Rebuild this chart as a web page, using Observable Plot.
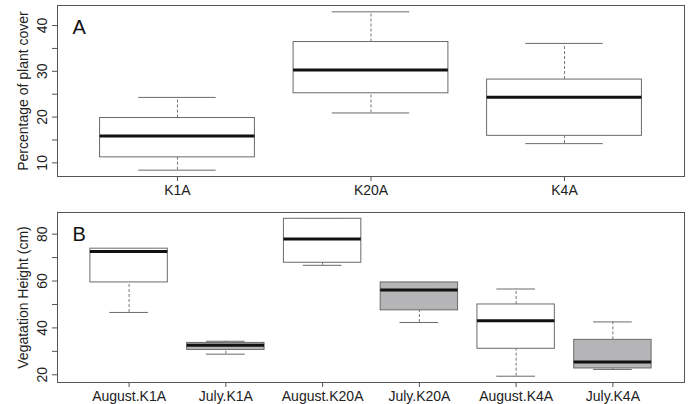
<!DOCTYPE html>
<html>
<head>
<meta charset="utf-8">
<script src="https://cdn.jsdelivr.net/npm/d3@7"></script>
<script src="https://cdn.jsdelivr.net/npm/@observablehq/plot@0.6"></script>
<style>
  html, body { margin: 0; padding: 0; background: white; }
  #chart { width: 689px; height: 404px; }
  #chart svg { display: block; }
</style>
</head>
<body>
<div id="chart"></div>
<script>
// Panel A: percentage of plant cover
const catsA = ["K1A", "K20A", "K4A"];
const loA  = [8.4, 20.9, 14.2];
const q1A  = [11.2, 25.2, 15.9];
const medA = [15.85, 30.3, 24.35];
const q3A  = [19.8, 36.4, 28.2];
const hiA  = [24.3, 43.0, 36.1];
const ticksA = [10, 15, 20, 25, 30, 35, 40];

// Panel B: vegetation height
const catsB = ["August.K1A", "July.K1A", "August.K20A", "July.K20A", "August.K4A", "July.K4A"];
const loB  = [46.6, 28.8, 66.7, 42.3, 19.4, 22.3];
const q1B  = [59.4, 30.6, 67.8, 47.5, 31.1, 22.7];
const medB = [72.6, 32.6, 77.9, 56.2, 43.1, 25.5];
const q3B  = [73.8, 33.6, 86.55, 59.4, 50.0, 34.9];
const hiB  = [73.6, 34.3, 86.55, 59.4, 56.6, 42.55];
const ticksB = [20, 30, 40, 50, 60, 70, 80];

function rows(cats, lo, q1, med, q3, hi) {
  return cats.map((c, k) => ({i: k + 1, name: c, lo: lo[k], q1: q1[k], med: med[k], q3: q3[k], hi: hi[k]}));
}

function panel({cats, data, ticks, labelStep, ylabel, letter, height, marginTop, marginBottom}) {
  const n = cats.length;
  const vmin = d3.min(data, d => d.lo), vmax = d3.max(data, d => d.hi);
  const ext = (vmax - vmin) * 0.04;
  const xext = n * 0.04;
  const boxStroke = "#6a6a6a";
  return Plot.plot({
    width: 689,
    height,
    marginLeft: 57,
    marginRight: 5,
    marginTop,
    marginBottom,
    style: {fontFamily: "'Liberation Sans', Arial, sans-serif", fontSize: "14px", color: "#222", background: "white"},
    x: {type: "linear", domain: [0.5 - xext, n + 0.5 + xext], label: null},
    y: {domain: [vmin - ext, vmax + ext], label: ylabel},
    marks: [
      Plot.axisX({ticks: d3.range(1, n + 1), tickFormat: i => cats[i - 1], tickSize: 5, tickPadding: 4, stroke: "#555", fill: "#222", fontSize: 14}),
      Plot.axisY({ticks, tickFormat: d => (d % labelStep === 0 ? d : ""), tickSize: 5, tickPadding: 6, tickRotate: -90, stroke: "#555", fill: "#222", fontSize: 14,
        label: ylabel, labelAnchor: "center", labelArrow: "none", labelOffset: 39}),
      // whiskers
      Plot.ruleX(data, {x: "i", y1: "q3", y2: "hi", stroke: "#777", strokeDasharray: "3,2"}),
      Plot.ruleX(data, {x: "i", y1: "lo", y2: "q1", stroke: "#777", strokeDasharray: "3,2"}),
      // staples
      Plot.ruleY(data, {y: "hi", x1: d => d.i - 0.2, x2: d => d.i + 0.2, stroke: boxStroke}),
      Plot.ruleY(data, {y: "lo", x1: d => d.i - 0.2, x2: d => d.i + 0.2, stroke: boxStroke}),
      // boxes
      Plot.rect(data, {x1: d => d.i - 0.4, x2: d => d.i + 0.4, y1: "q1", y2: "q3",
        fill: d => (d.name.startsWith("July") ? "#b5b5b7" : "white"), stroke: boxStroke, strokeWidth: 1}),
      // medians
      Plot.ruleY(data, {y: "med", x1: d => d.i - 0.4, x2: d => d.i + 0.4, stroke: "#111", strokeWidth: 3}),
      Plot.frame({stroke: "#555", strokeWidth: 1}),
      Plot.text([letter], {frameAnchor: "top-left", dx: 15, dy: 14, text: d => d, fontSize: 20, fill: "#111", textAnchor: "start", lineAnchor: "top"})
    ]
  });
}

const chart = document.getElementById("chart");
chart.append(panel({
  cats: catsA, data: rows(catsA, loA, q1A, medA, q3A, hiA), ticks: ticksA, labelStep: 10,
  ylabel: "Percentage of plant cover", letter: "A", height: 200, marginTop: 5, marginBottom: 24
}));
chart.append(panel({
  cats: catsB, data: rows(catsB, loB, q1B, medB, q3B, hiB), ticks: ticksB, labelStep: 20,
  ylabel: "Vegatation Height (cm)", letter: "B", height: 204, marginTop: 12, marginBottom: 22
}));
</script>
</body>
</html>
